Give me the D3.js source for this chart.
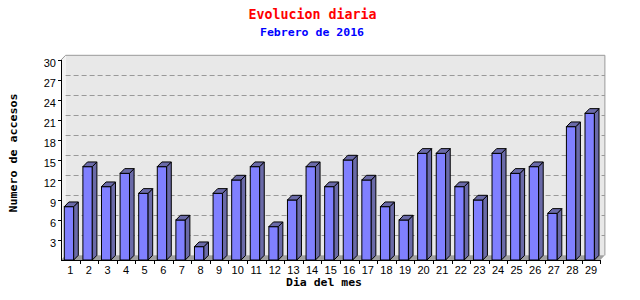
<!DOCTYPE html>
<html>
<head>
<meta charset="utf-8">
<script src="https://cdn.jsdelivr.net/npm/d3@7"></script>
<style>
    body { margin: 0; background: #fff; }
    svg { display: block; }
    .tick-label { font-family: 'Liberation Sans', Arial, sans-serif; font-size: 11px; fill: #000; }
    .mono { font-family: 'DejaVu Sans Mono', monospace; font-weight: bold; }
</style>
</head>
<body>
<svg id="chart" width="640" height="300"></svg>
<script>
const days = ['1', '2', '3', '4', '5', '6', '7', '8', '9', '10', '11', '12', '13', '14', '15', '16', '17', '18', '19', '20', '21', '22', '23', '24', '25', '26', '27', '28', '29'];
const accesses = [8, 14, 11, 13, 10, 14, 6, 2, 10, 12, 14, 5, 9, 14, 11, 15, 12, 8, 6, 16, 16, 11, 9, 16, 13, 14, 7, 20, 22];
const yTicks = [3, 6, 9, 12, 15, 18, 21, 24, 27, 30];

const plotLeft = 61;
const plotRight = 600.3;
const plotBottom = 260;
const plotTop = 60;
const dx = 4.6; // 3d depth
const dy = 4.7;

const svg = d3.select('#chart');

const x = d3.scaleBand().domain(days).range([plotLeft, plotRight]);
const y = d3.scaleLinear().domain([0, 30]).range([plotBottom, plotTop]);

// back wall
svg.append('rect')
    .attr('x', plotLeft + dx)
    .attr('y', plotTop - dy)
    .attr('width', plotRight - plotLeft)
    .attr('height', plotBottom - plotTop)
    .attr('fill', '#e8e8e8');

// left wall
svg.append('polygon')
    .attr('points', [[plotLeft, plotBottom], [plotLeft, plotTop], [plotLeft + dx, plotTop - dy], [plotLeft + dx, plotBottom - dy]].join(' '))
    .attr('fill', '#f2f2f2');

svg.append('path')
    .attr('d', 'M' + plotLeft + ',' + plotTop + 'L' + (plotLeft + dx) + ',' + (plotTop - dy) + 'H' + (plotRight + dx) + 'V' + (plotBottom - dy))
    .attr('fill', 'none')
    .attr('stroke', '#999')
    .attr('stroke-width', 1);

// grid
svg.selectAll('.grid')
    .data(yTicks.filter(function (d) { return d < 30; }))
    .enter()
    .append('line')
    .attr('class', 'grid')
    .attr('x1', plotLeft + dx)
    .attr('x2', plotRight + dx)
    .attr('y1', function (d) { return Math.round(y(d) - dy) + 0.5; })
    .attr('y2', function (d) { return Math.round(y(d) - dy) + 0.5; })
    .attr('stroke', '#999')
    .attr('stroke-dasharray', '5,3');

// floor
svg.append('polygon')
    .attr('points', [[plotLeft, plotBottom], [plotLeft + dx, plotBottom - dy], [plotRight + dx, plotBottom - dy], [plotRight, plotBottom]].join(' '))
    .attr('fill', '#a0a0a0');

// bars
const bw = 9.4;
const bars = svg.selectAll('.bar')
    .data(accesses)
    .enter()
    .append('g')
    .attr('class', 'bar');

bars.append('rect')
    .attr('x', function (d, i) { return x(days[i]) + 3.3; })
    .attr('y', function (d) { return y(d); })
    .attr('width', bw)
    .attr('height', function (d) { return y(0) - y(d); })
    .attr('fill', '#8080ff')
    .attr('stroke', '#000');

bars.append('polygon')
    .attr('points', function (d, i) {
        const x0 = x(days[i]) + 3.3 + bw;
        return [[x0, y(d)], [x0 + dx, y(d) - dy], [x0 + dx, y(0) - dy], [x0, y(0)]].join(' ');
    })
    .attr('fill', '#6a6aa8')
    .attr('stroke', '#000');

bars.append('polygon')
    .attr('points', function (d, i) {
        const x0 = x(days[i]) + 3.3;
        return [[x0, y(d)], [x0 + dx, y(d) - dy], [x0 + bw + dx, y(d) - dy], [x0 + bw, y(d)]].join(' ');
    })
    .attr('fill', '#6a6aa8')
    .attr('stroke', '#000');

// y axis
svg.append('line')
    .attr('x1', plotLeft + 0.5).attr('x2', plotLeft + 0.5)
    .attr('y1', plotTop).attr('y2', plotBottom)
    .attr('stroke', '#000');

svg.selectAll('.ytick')
    .data(yTicks)
    .enter()
    .append('line')
    .attr('x1', plotLeft - 3).attr('x2', plotLeft)
    .attr('y1', function (d) { return Math.round(y(d)) + 0.5; })
    .attr('y2', function (d) { return Math.round(y(d)) + 0.5; })
    .attr('stroke', '#000');

svg.selectAll('.ylabel')
    .data(yTicks)
    .enter()
    .append('text')
    .attr('class', 'tick-label')
    .attr('x', plotLeft - 5)
    .attr('y', function (d) { return y(d) + 6.5; })
    .attr('text-anchor', 'end')
    .text(function (d) { return d; });

// x axis
svg.append('line')
    .attr('x1', plotLeft).attr('x2', plotRight)
    .attr('y1', plotBottom + 0.5).attr('y2', plotBottom + 0.5)
    .attr('stroke', '#000');

svg.selectAll('.xtick')
    .data(days)
    .enter()
    .append('line')
    .attr('x1', function (d) { return Math.round(x(d) + x.bandwidth()) + 0.5; })
    .attr('x2', function (d) { return Math.round(x(d) + x.bandwidth()) + 0.5; })
    .attr('y1', plotBottom).attr('y2', plotBottom + 4)
    .attr('stroke', '#000');

svg.selectAll('.xlabel')
    .data(days)
    .enter()
    .append('text')
    .attr('class', 'tick-label')
    .attr('x', function (d) { return x(d) + x.bandwidth() / 2; })
    .attr('y', plotBottom + 14)
    .attr('text-anchor', 'middle')
    .text(function (d) { return d; });

// titles
svg.append('text')
    .attr('class', 'mono')
    .attr('x', 312.5).attr('y', 19)
    .attr('text-anchor', 'middle')
    .attr('font-size', 14.5)
    .attr('textLength', 128)
    .attr('lengthAdjust', 'spacingAndGlyphs')
    .attr('fill', '#ff0000')
    .text('Evolucion diaria');

svg.append('text')
    .attr('class', 'mono')
    .attr('x', 312).attr('y', 36.3)
    .attr('text-anchor', 'middle')
    .attr('font-size', 11)
    .attr('textLength', 104)
    .attr('lengthAdjust', 'spacingAndGlyphs')
    .attr('fill', '#0000ff')
    .text('Febrero de 2016');

svg.append('text')
    .attr('class', 'mono')
    .attr('x', 324).attr('y', 285.5)
    .attr('text-anchor', 'middle')
    .attr('font-size', 11)
    .attr('textLength', 76)
    .attr('lengthAdjust', 'spacingAndGlyphs')
    .text('Dia del mes');

svg.append('text')
    .attr('class', 'mono')
    .attr('transform', 'translate(16.5,153) rotate(-90)')
    .attr('text-anchor', 'middle')
    .attr('font-size', 11)
    .attr('textLength', 119)
    .attr('lengthAdjust', 'spacingAndGlyphs')
    .text('Numero de accesos');
</script>
</body>
</html>
